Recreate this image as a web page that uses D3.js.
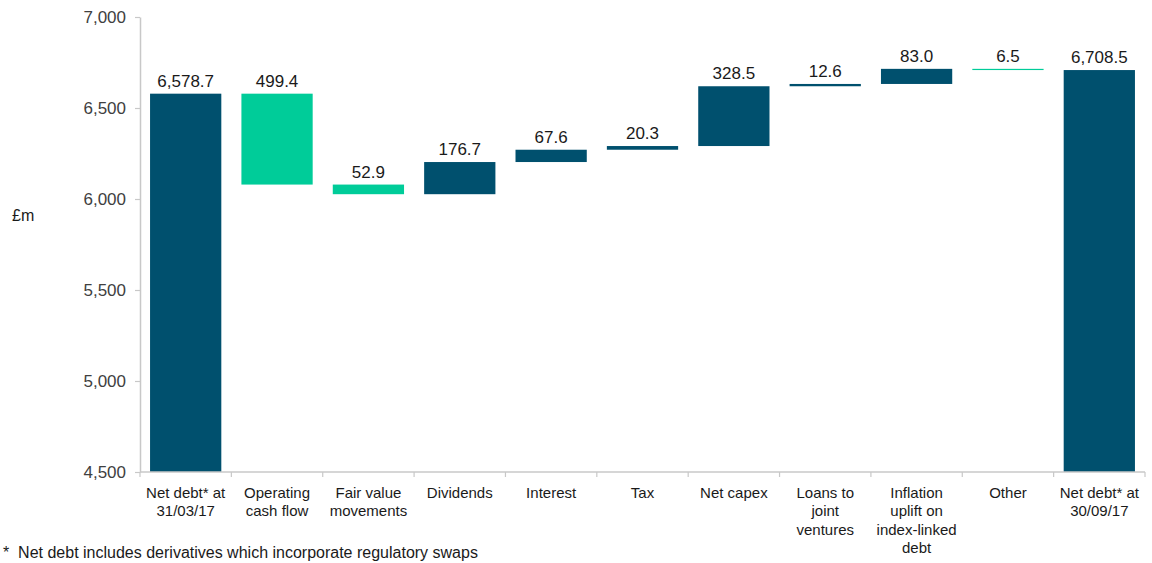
<!DOCTYPE html>
<html>
<head>
<meta charset="utf-8">
<script src="https://cdn.jsdelivr.net/npm/d3@7"></script>
<style>
  html, body { margin: 0; padding: 0; background: #fff; }
  svg { display: block; font-family: "Liberation Sans", Arial, sans-serif; }
</style>
</head>
<body>
<svg id="chart" width="1152" height="563"></svg>
<script>
// Net debt bridge, £m
const categories = [
  "Net debt* at\n31/03/17",
  "Operating\ncash flow",
  "Fair value\nmovements",
  "Dividends",
  "Interest",
  "Tax",
  "Net capex",
  "Loans to\njoint\nventures",
  "Inflation\nuplift on\nindex-linked\ndebt",
  "Other",
  "Net debt* at\n30/09/17"
];
// kind: total = full bar from axis, down = reduces net debt, up = increases it
const kinds = ["total", "down", "down", "up", "up", "up", "up", "up", "up", "down", "total"];
const values = [6578.7, 499.4, 52.9, 176.7, 67.6, 20.3, 328.5, 12.6, 83.0, 6.5, 6708.5];
const yTicks = [4500, 5000, 5500, 6000, 6500, 7000];
const footnote = "*  Net debt includes derivatives which incorporate regulatory swaps";

const colTotal = "#00506e";
const colDown = "#00cc99";
const colUp = "#00506e";

const svg = d3.select("#chart");
const x = d3.scaleBand().domain(categories).range([140, 1145]).paddingInner(0.22).paddingOuter(0.11);
const y = d3.scaleLinear().domain([4500, 7000]).range([472, 17]);

// running totals for each step
let level = 0;
const bars = categories.map((c, i) => {
  const v = values[i];
  let lo, hi;
  if (kinds[i] === "total") { lo = y.domain()[0]; hi = v; level = v; }
  else if (kinds[i] === "up") { lo = level; hi = level + v; level = hi; }
  else { hi = level; lo = level - v; level = lo; }
  return { c, v, lo, hi, kind: kinds[i] };
});

// y axis
const yAxis = svg.append("g")
  .attr("transform", "translate(140,0)")
  .call(d3.axisLeft(y).tickValues(yTicks).tickFormat(d3.format(",")).tickSize(5).tickSizeOuter(0).tickPadding(9));
yAxis.select(".domain").attr("stroke", "#c8c8c8").attr("stroke-width", 1.5);
yAxis.selectAll(".tick line").attr("stroke", "#c8c8c8").attr("stroke-width", 1.2);
yAxis.selectAll(".tick text").attr("font-size", 17).attr("fill", "#404040").attr("font-family", "Liberation Sans, Arial, sans-serif");

// bars
svg.append("g").selectAll("rect").data(bars).join("rect")
  .attr("x", d => x(d.c))
  .attr("width", x.bandwidth())
  .attr("y", d => y(d.hi))
  .attr("height", d => Math.max(1.2, y(d.lo) - y(d.hi)))
  .attr("fill", d => d.kind === "total" ? colTotal : d.kind === "up" ? colUp : colDown);

// value labels
svg.append("g").selectAll("text").data(bars).join("text")
  .attr("x", d => x(d.c) + x.bandwidth() / 2)
  .attr("y", d => y(d.hi) - 7)
  .attr("text-anchor", "middle")
  .attr("font-size", 17)
  .attr("fill", "#1a1a1a")
  .text(d => d3.format(",.1f")(d.v));

// x axis line with ticks at category boundaries
const xg = svg.append("g");
xg.append("line").attr("x1", 140).attr("x2", 1145).attr("y1", 472).attr("y2", 472)
  .attr("stroke", "#c8c8c8").attr("stroke-width", 1.5);
const bounds = d3.range(categories.length + 1).map(i => x.range()[0] + i * x.step());
xg.selectAll("line.b").data(bounds).join("line").attr("class", "b")
  .attr("x1", d => d).attr("x2", d => d).attr("y1", 472).attr("y2", 477)
  .attr("stroke", "#c8c8c8").attr("stroke-width", 1.2);

// category labels
const xAxis = svg.append("g").attr("transform", "translate(0,472)")
  .call(d3.axisBottom(x).tickSize(0).tickFormat(() => ""));
xAxis.select(".domain").remove();
xAxis.selectAll(".tick").each(function(d) {
  const t = d3.select(this).append("text")
    .attr("text-anchor", "middle")
    .attr("font-size", 15)
    .attr("fill", "#1a1a1a")
    .attr("font-family", "Liberation Sans, Arial, sans-serif");
  d.split("\n").forEach((line, i) => {
    t.append("tspan").attr("x", 0).attr("y", 26 + i * 18.3).text(line);
  });
});

// unit label
svg.append("text").attr("x", 12).attr("y", 221).attr("font-size", 16).attr("fill", "#1a1a1a").text("£m");

// footnote
svg.append("text").attr("x", 3).attr("y", 558).attr("font-size", 16).attr("fill", "#1a1a1a")
  .attr("xml:space", "preserve").style("white-space", "pre").text(footnote);
</script>
</body>
</html>
